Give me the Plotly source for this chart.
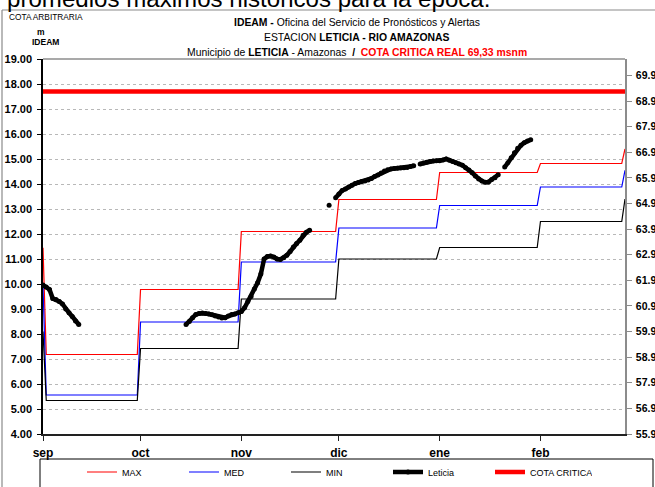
import pandas as pd
import plotly.graph_objects as go

# ---- data -------------------------------------------------------------
inicio = pd.Timestamp("2016-09-01")
fin = pd.Timestamp("2017-02-27")

meses = ["2016-09-01", "2016-10-01", "2016-11-01", "2016-12-01", "2017-01-01", "2017-02-01"]
mes_etiquetas = ["sep", "oct", "nov", "dic", "ene", "feb"]

# monthly historical levels (m, cota arbitraria)
nivel_max = [7.18, 9.78, 12.10, 13.38, 14.46, 14.82]
nivel_med = [5.56, 8.48, 10.88, 12.24, 13.14, 13.88]
nivel_min = [5.34, 7.42, 9.40, 11.00, 11.46, 12.50]
# level carried in on the first day / reached on the last day
max_previo, max_sig = 11.45, 15.40
med_previo, med_sig = 9.92, 14.55
min_previo, min_sig = 8.10, 13.40

cota_critica = 69.33  # msnm

# daily readings at Leticia, three stretches (None = missing day)
tramo1_inicio = "2016-09-01"
tramo1 = [9.96, 9.88, 9.78, 9.42, 9.38, 9.30, 9.20, 9.00, 8.85, 8.70, 8.52, 8.38]
tramo2_inicio = "2016-10-15"
tramo2 = [8.38, 8.50, 8.65, 8.78, 8.82, 8.84, 8.82, 8.80, 8.77, 8.72, 8.68, 8.64, 8.65,
          8.72, 8.78, 8.80, 8.85, 8.90, 9.05, 9.30, 9.50, 9.80, 10.05, 10.40, 11.00,
          11.10, 11.12, 11.08, 11.00, 10.98, 11.05, 11.15, 11.30, 11.48, 11.62, 11.75,
          11.95, 12.07, 12.15]
tramo3_inicio = "2016-11-28"
tramo3 = [13.15, None, 13.45, 13.60, 13.74, 13.80, 13.88, 13.95, 14.02, 14.06, 14.10,
          14.12, 14.16, 14.22, 14.30, 14.36, 14.44, 14.52, 14.57, 14.60, 14.62, 14.63,
          14.64, 14.65, 14.66, 14.70, 14.73, None, 14.80, 14.84, 14.87, 14.90, 14.92,
          14.93, 14.93, 14.96, 15.00, 14.95, 14.90, 14.85, 14.80, 14.75, 14.65, 14.56,
          14.45, 14.32, 14.20, 14.12, 14.07, 14.08, 14.18, 14.25, 14.37, None, 14.68,
          14.85, 15.05, 15.25, 15.43, 15.55, 15.65, 15.72, 15.77]

izq_ticks = list(range(4, 20))
der_ticks = [55.96 + k for k in range(15)]
der_rango = [55.96, 70.60]

# ---- helpers ------------------------------------------------------------
def escalones(valores, previo, siguiente):
    """Month-long steps; first/last day carry the neighbouring month's level."""
    xs, ys = [inicio], [previo]
    for i, v in enumerate(valores):
        a = pd.Timestamp(meses[i])
        if i == 0:
            a = a + pd.Timedelta(days=1)
        if i + 1 < len(meses):
            b = pd.Timestamp(meses[i + 1]) - pd.Timedelta(days=1)
        else:
            b = fin - pd.Timedelta(days=1)
        xs += [a, b]
        ys += [v, v]
    xs.append(fin)
    ys.append(siguiente)
    return xs, ys


def tramo(fecha0, valores):
    fechas = pd.date_range(fecha0, periods=len(valores), freq="D")
    return list(fechas), list(valores)


lx, ly = [], []
for f0, vals in [(tramo1_inicio, tramo1), (tramo2_inicio, tramo2), (tramo3_inicio, tramo3)]:
    fx, fy = tramo(f0, vals)
    if lx:
        lx.append(fx[0] - pd.Timedelta(hours=12))
        ly.append(None)
    lx += fx
    ly += fy

SANS = "Liberation Sans, Arial, sans-serif"

# ---- figure -------------------------------------------------------------
fig = go.Figure()

for nombre, vals, prev, sig, color in [
    ("MAX", nivel_max, max_previo, max_sig, "#ff0000"),
    ("MED", nivel_med, med_previo, med_sig, "#0000ff"),
    ("MIN", nivel_min, min_previo, min_sig, "#000000"),
]:
    sx, sy = escalones(vals, prev, sig)
    fig.add_trace(go.Scatter(x=sx, y=sy, mode="lines", name=nombre,
                             line=dict(color=color, width=1.2)))

fig.add_trace(go.Scatter(x=lx, y=ly, mode="lines+markers", name="Leticia",
                         line=dict(color="#000000", width=4.5),
                         marker=dict(color="#000000", size=5),
                         connectgaps=False))

fig.add_trace(go.Scatter(x=[inicio, fin], y=[cota_critica, cota_critica], mode="lines",
                         name="COTA CRITICA", yaxis="y2",
                         line=dict(color="#ff0000", width=4.5)))

L, R, T, B = 43, 30, 59, 53
W, H = 655, 487
pw, ph = W - L - R, H - T - B


def px(xp):
    return (xp - L) / pw


def py(yp):
    return 1 - (yp - T) / ph


fig.update_layout(
    width=W, height=H,
    margin=dict(l=L, r=R, t=T, b=B, pad=0, autoexpand=False),
    paper_bgcolor="white", plot_bgcolor="white",
    font=dict(family=SANS, color="black"),
    showlegend=True,
    legend=dict(orientation="h", x=px(82), xanchor="left", y=py(472), yanchor="middle",
                font=dict(family=SANS, size=9), entrywidth=57, entrywidthmode="pixels",
                itemwidth=30, bgcolor="rgba(0,0,0,0)", borderwidth=0,
                traceorder="normal"),
    xaxis=dict(
        type="date", range=[inicio, fin], tickmode="array",
        tickvals=meses, ticktext=mes_etiquetas,
        showgrid=False, zeroline=False, showline=True, linecolor="#222", linewidth=1.5,
        ticks="outside", ticklen=5, tickcolor="#222", ticklabelstandoff=2,
        tickfont=dict(family=SANS, size=12, color="black", weight="bold"),
        automargin=False,
    ),
    yaxis=dict(
        range=[4, 19], tickmode="array", tickvals=izq_ticks,
        ticktext=[f"{v:.2f}" for v in izq_ticks],
        showgrid=True, gridcolor="#b8b8b8", griddash="dot", gridwidth=1,
        zeroline=False, showline=True, linecolor="black", linewidth=1.5,
        ticks="outside", ticklen=4, tickcolor="black", ticklabelstandoff=3,
        tickfont=dict(family=SANS, size=11, color="black", weight="bold"),
        automargin=False,
    ),
    yaxis2=dict(
        overlaying="y", side="right", range=der_rango, tickmode="array",
        tickvals=der_ticks, ticktext=[f"{v:.2f}" for v in der_ticks],
        showgrid=False, zeroline=False, showline=True, linecolor="#8c8c8c", linewidth=1.5,
        ticks="outside", ticklen=5, tickcolor="#8c8c8c", ticklabelstandoff=2,
        tickfont=dict(family=SANS, size=10.5, color="black", weight="bold"),
        automargin=False,
    ),
)

# frame around the sheet, plot area top edge and legend box
fig.add_shape(type="line", xref="paper", yref="paper", x0=px(2), x1=px(660), y0=py(10), y1=py(10),
              line=dict(color="#8a8a8a", width=1.2))
fig.add_shape(type="line", xref="paper", yref="paper", x0=px(2), x1=px(2), y0=py(10), y1=py(495),
              line=dict(color="#8a8a8a", width=1.2))
fig.add_shape(type="line", xref="paper", yref="paper", x0=0, x1=1, y0=1, y1=1,
              line=dict(color="#8c8c8c", width=1.5), layer="below")
fig.add_shape(type="rect", xref="paper", yref="paper", x0=px(40), x1=px(653), y0=py(459), y1=py(495),
              line=dict(color="black", width=1), fillcolor="rgba(0,0,0,0)")

# headings
fig.add_annotation(text="promedios máximos históricos para la época.", xref="paper", yref="paper",
                   x=px(5), y=py(-1.3), xanchor="left", yanchor="middle", showarrow=False,
                   font=dict(family=SANS, size=24.1, color="black"))
fig.add_annotation(text="<b>IDEAM -</b> Oficina del Servicio de Pronósticos y Alertas",
                   xref="paper", yref="paper", x=px(356.5), y=py(22.8), xanchor="center",
                   yanchor="middle", showarrow=False, font=dict(family=SANS, size=10.4))
fig.add_annotation(text="ESTACION <b>LETICIA - RIO AMAZONAS</b>",
                   xref="paper", yref="paper", x=px(356.5), y=py(37), xanchor="center",
                   yanchor="middle", showarrow=False, font=dict(family=SANS, size=10.4))
fig.add_annotation(text="Municipio de <b>LETICIA</b> - Amazonas  <b>/</b>  "
                        "<b><span style='color:#ff0000'>COTA CRITICA REAL 69,33 msnm</span></b>",
                   xref="paper", yref="paper", x=px(356.5), y=py(52.2), xanchor="center",
                   yanchor="middle", showarrow=False, font=dict(family=SANS, size=10.4))
fig.add_annotation(text="COTA ARBITRARIA", xref="paper", yref="paper", x=px(46), y=py(17),
                   xanchor="center", yanchor="middle", showarrow=False,
                   font=dict(family=SANS, size=8.3))
fig.add_annotation(text="<b>m</b>", xref="paper", yref="paper", x=px(40.5), y=py(31.5),
                   xanchor="center", yanchor="middle", showarrow=False,
                   font=dict(family=SANS, size=8.5))
fig.add_annotation(text="<b>IDEAM</b>", xref="paper", yref="paper", x=px(45.5), y=py(42.5),
                   xanchor="center", yanchor="middle", showarrow=False,
                   font=dict(family=SANS, size=8.5))

fig.write_html("out.html")
